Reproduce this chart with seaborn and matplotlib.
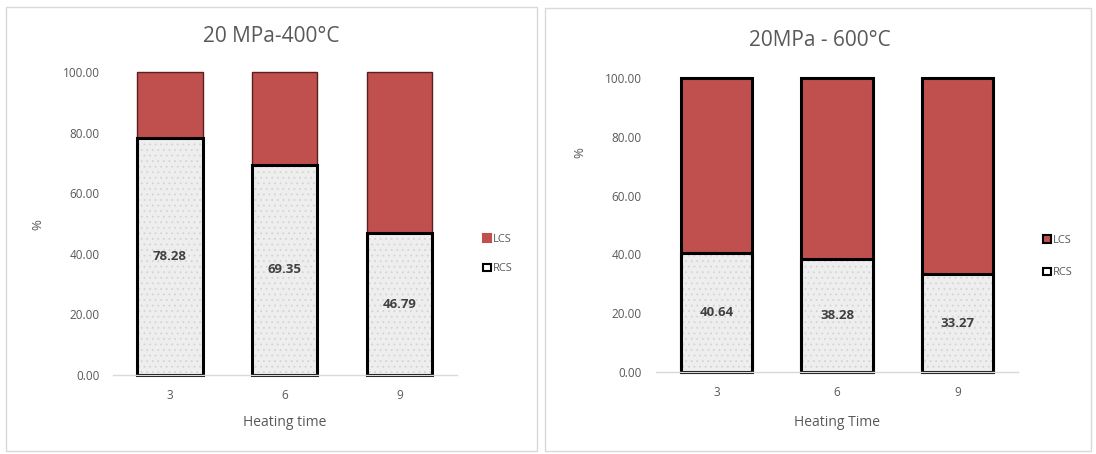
import matplotlib
matplotlib.use("Agg")
import matplotlib.pyplot as plt
from matplotlib.patches import Patch, Rectangle
import seaborn as sns

# Data
heating_times = ["3", "6", "9"]
rcs_400 = [78.28, 69.35, 46.79]
rcs_600 = [40.64, 38.28, 33.27]
total = [100.0, 100.0, 100.0]

titles = ["20 MPa-400\u00b0C", "20MPa - 600\u00b0C"]
xlabels = ["Heating time", "Heating Time"]
yticks = [0, 20, 40, 60, 80, 100]

lcs_color = "#c0504d"
rcs_color = "#eeeeee"
text_color = "#595959"

sns.set_theme(style="white")
plt.rcParams["font.family"] = ["Open Sans", "DejaVu Sans"]
plt.rcParams["hatch.linewidth"] = 0.6

fig = plt.figure(figsize=(10.96, 4.54), dpi=100)
W, H = 1096, 454


def px_axes(x0, x1, y_top, y_bot):
    return fig.add_axes([x0 / W, 1 - y_bot / H, (x1 - x0) / W, (y_bot - y_top) / H])


# panel borders
fig.patches.append(Rectangle((6 / W, 1 - 451 / H), 531 / W, 444 / H, transform=fig.transFigure,
                             fill=False, edgecolor="#d9d9d9", linewidth=1))
fig.patches.append(Rectangle((545 / W, 1 - 451 / H), 546 / W, 443 / H, transform=fig.transFigure,
                             fill=False, edgecolor="#d9d9d9", linewidth=1))

ax1 = px_axes(112.5, 457, 72, 375)
ax2 = px_axes(656, 1018, 78, 372)

# axes, values, bar width, LCS edge, LCS lw, title (x, y), % pos, xlabel y, legend, tick pad
configs = [
    (ax1, rcs_400, 0.57, "#5a1f1e", 1.0, (271, 37), (38, 225), 423, (483, 239, 269), 9),
    (ax2, rcs_600, 0.59, "black", 2.2, (820, 40), (580, 153), 423, (1043, 240, 273), 10.5),
]

for i, (ax, rcs, width, lcs_edge, lcs_lw, tpos, ylab_pos, xly, leg, pad) in enumerate(configs):
    # LCS on top (drawn as full 100 bar)
    sns.barplot(x=heating_times, y=total, color=lcs_color, saturation=1, width=width,
                edgecolor=lcs_edge, linewidth=lcs_lw, ax=ax)
    # RCS textured fill
    sns.barplot(x=heating_times, y=rcs, color=rcs_color, saturation=1, width=width,
                edgecolor="#d4d4d4", linewidth=0, hatch="...", ax=ax)
    # RCS outline
    sns.barplot(x=heating_times, y=rcs, fill=False, width=width,
                edgecolor="black", linewidth=2.2, ax=ax)
    for p in ax.patches:
        p.set_clip_on(False)

    for j, v in enumerate(rcs):
        ax.text(j, v / 2, f"{v:.2f}", ha="center", va="center", fontsize=9.5,
                fontweight="bold", color="#404040")

    ax.set_xlim(-0.5, 2.5)
    ax.set_ylim(0, 100)
    ax.set_yticks(yticks)
    ax.set_yticklabels([f"{t:.2f}" for t in yticks])
    ax.tick_params(axis="y", length=0, labelsize=8.5, labelcolor=text_color, pad=pad)
    ax.tick_params(axis="x", length=0, labelsize=8.5, labelcolor=text_color, pad=10)
    for s in ["top", "right", "left"]:
        ax.spines[s].set_visible(False)
    ax.spines["bottom"].set_color("#d9d9d9")
    ax.spines["bottom"].set_linewidth(1)
    ax.set_xlabel("")
    ax.set_ylabel("")

    cx = (ax.get_position().x0 + ax.get_position().x1) / 2
    fig.text(tpos[0] / W, 1 - tpos[1] / H, titles[i], ha="center", va="center",
             fontsize=15, color=text_color)
    fig.text(cx, 1 - xly / H, xlabels[i], ha="center", va="center", fontsize=10, color=text_color)
    fig.text(ylab_pos[0] / W, 1 - ylab_pos[1] / H, "%", ha="center", va="center", rotation=90,
             fontsize=9.5, color=text_color)

    # legend
    lx, ly1, ly2 = leg
    lcs_handle = Patch(facecolor=lcs_color, edgecolor=("black" if i == 1 else lcs_color), linewidth=1.5)
    rcs_handle = Patch(facecolor="white", edgecolor="black", linewidth=1.5)
    fig.legend(handles=[lcs_handle, rcs_handle], labels=["LCS", "RCS"],
               loc="center left", bbox_to_anchor=(lx / W, 1 - (ly1 + ly2) / 2 / H),
               frameon=False, fontsize=8, labelcolor=text_color,
               handlelength=0.7, handleheight=0.7, handletextpad=0.2,
               labelspacing=(ly2 - ly1) / 8 * 0.72 - 1.0, borderpad=0, borderaxespad=0)

fig.savefig("out.png", dpi=100)
